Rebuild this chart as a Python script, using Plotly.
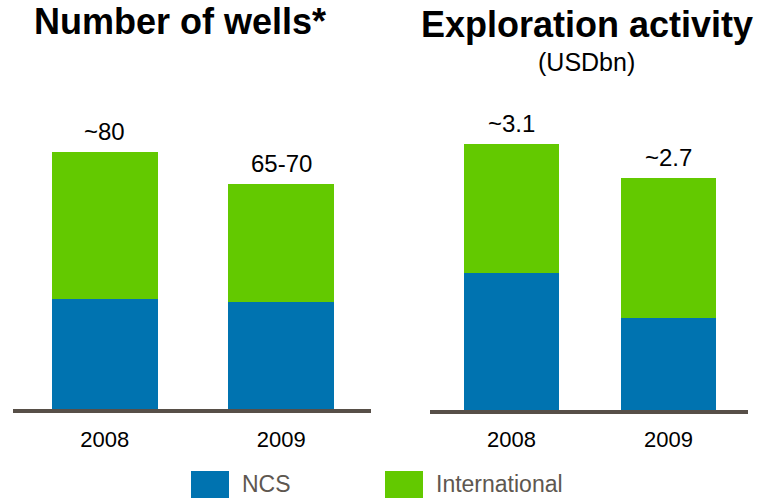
import plotly.graph_objects as go

# Data
years = ["2008", "2009"]
wells_ncs = [34.5, 33.5]
wells_intl = [45.5, 36.5]
wells_labels = ["~80", "65-70"]
expl_ncs = [1.6, 1.07]
expl_intl = [1.5, 1.63]
expl_labels = ["~3.1", "~2.7"]
legend_names = ["NCS", "International"]

BLUE = "#0073b0"
GREEN = "#63c900"
AXIS = "#574f48"
LEGEND_TXT = "#5e5750"
FONT = "Liberation Sans, Arial, sans-serif"
W, H = 774, 498


def px(x):
    return x / W


def py(y):
    return 1 - y / H


fig = go.Figure()
for ax, ncs, intl, bw in [("", wells_ncs, wells_intl, 0.6), ("2", expl_ncs, expl_intl, 0.605)]:
    fig.add_bar(x=years, y=ncs, name=legend_names[0], marker=dict(color=BLUE, line_width=0),
                width=bw, xaxis="x" + ax, yaxis="y" + ax)
    fig.add_bar(x=years, y=intl, name=legend_names[1], marker=dict(color=GREEN, line_width=0),
                width=bw, xaxis="x" + ax, yaxis="y" + ax)

annotations = []
# Totals above each stacked bar (category index on the x axis)
for ax, ncs, intl, labels in [("", wells_ncs, wells_intl, wells_labels),
                              ("2", expl_ncs, expl_intl, expl_labels)]:
    for i, (a, b, lab) in enumerate(zip(ncs, intl, labels)):
        annotations.append(dict(x=i, y=a + b, xref="x" + ax, yref="y" + ax, text=lab,
                                showarrow=False, yanchor="bottom", yshift=5,
                                font=dict(size=24, color="black", family=FONT)))

# Panel titles
annotations += [
    dict(x=px(180), y=py(22), xref="paper", yref="paper", text="<b>Number of wells*</b>",
         showarrow=False, xanchor="center", yanchor="middle",
         font=dict(size=36, color="black", family=FONT)),
    dict(x=px(587), y=py(25), xref="paper", yref="paper", text="<b>Exploration activity</b>",
         showarrow=False, xanchor="center", yanchor="middle",
         font=dict(size=36, color="black", family=FONT)),
    dict(x=px(586), y=py(62), xref="paper", yref="paper", text="(USDbn)",
         showarrow=False, xanchor="center", yanchor="middle",
         font=dict(size=25, color="black", family=FONT)),
]

# Legend
shapes = []
for x0, col, name in [(191, BLUE, legend_names[0]), (385, GREEN, legend_names[1])]:
    shapes.append(dict(type="rect", xref="paper", yref="paper", x0=px(x0), x1=px(x0 + 38),
                       y0=py(471), y1=py(520), fillcolor=col, line_width=0))
    annotations.append(dict(x=px(x0 + 49), y=py(484), xref="paper", yref="paper", text=name,
                            showarrow=False, xanchor="left", yanchor="middle",
                            font=dict(size=23, color=LEGEND_TXT, family=FONT)))

# Base lines under each panel
for x0, x1, y in [(13, 371, 411), (430, 748, 412)]:
    shapes.append(dict(type="line", xref="paper", yref="paper", x0=px(x0), x1=px(x1),
                       y0=py(y), y1=py(y), line=dict(color=AXIS, width=4)))

xcommon = dict(type="category", range=[-0.5, 1.5], showgrid=False, zeroline=False,
               showline=False, ticks="", ticklabelstandoff=14,
               tickfont=dict(size=22, color="black", family=FONT), fixedrange=True)
ycommon = dict(visible=False, showgrid=False, zeroline=False, fixedrange=True,
               domain=[py(410), py(100)])

fig.update_layout(
    width=W, height=H, margin=dict(l=0, r=0, t=0, b=0),
    paper_bgcolor="white", plot_bgcolor="white",
    barmode="stack", showlegend=False,
    font=dict(family=FONT),
    xaxis=dict(domain=[px(16.5), px(369.5)], anchor="y", **xcommon),
    yaxis=dict(range=[0, 310 / 3.225], anchor="x", **ycommon),
    xaxis2=dict(domain=[px(433), px(747)], anchor="y2", **xcommon),
    yaxis2=dict(range=[0, 310 / 85.93], anchor="x2", **ycommon),
    annotations=annotations,
    shapes=shapes,
)

fig.write_html("out.html")
